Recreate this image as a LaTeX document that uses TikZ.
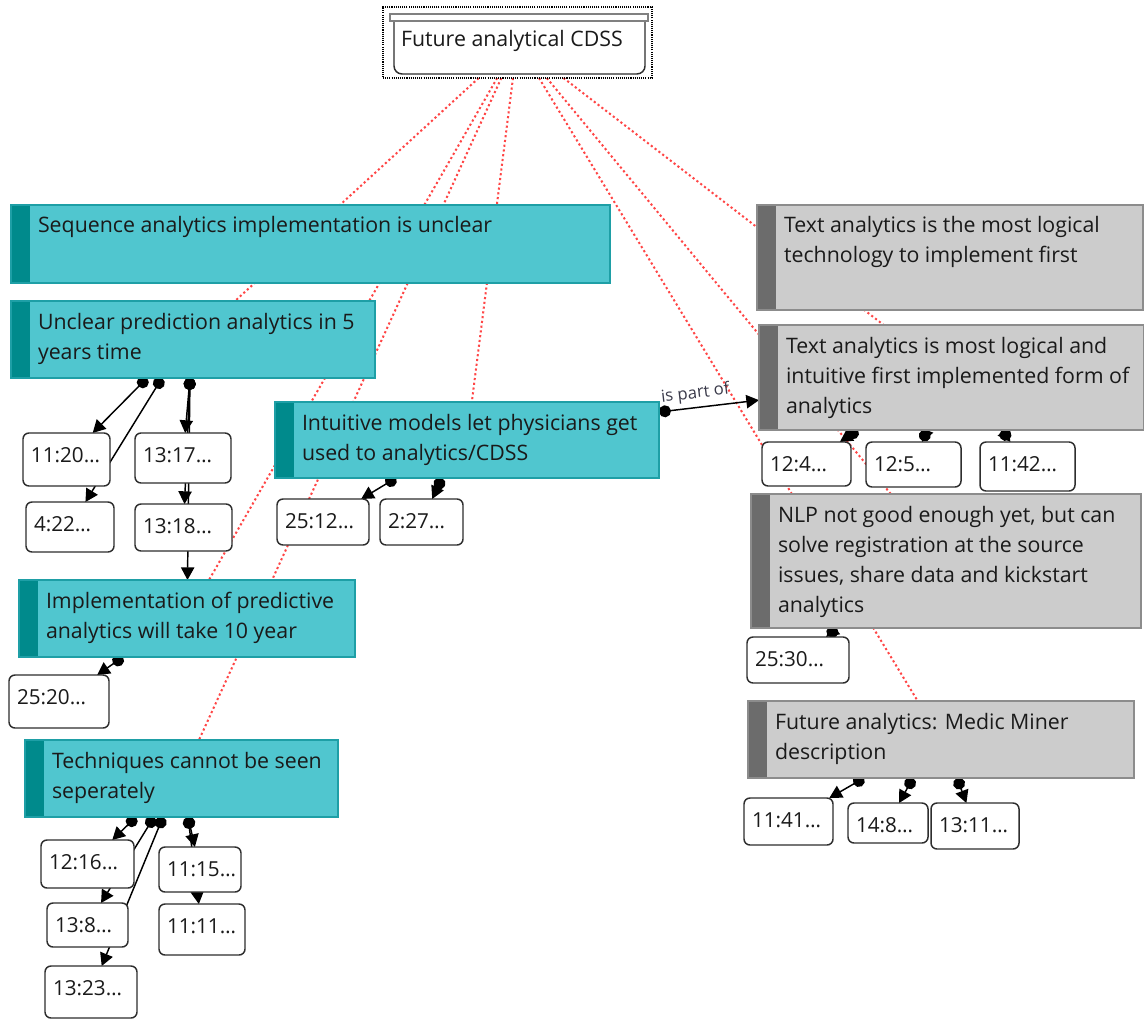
\documentclass[tikz,border=0pt]{standalone}
\usepackage{fontspec}
\setmainfont{Open Sans}
\usetikzlibrary{arrows.meta,calc}
\definecolor{cyanfill}{HTML}{50C6CF}
\definecolor{cyanline}{HTML}{1E9FA6}
\definecolor{cyanstrip}{HTML}{008A8C}
\definecolor{grayfill}{HTML}{CCCCCC}
\definecolor{grayline}{HTML}{8C8C8C}
\definecolor{graystrip}{HTML}{6C6C6C}
\definecolor{reddot}{HTML}{FF4545}
\definecolor{txt}{HTML}{1A1A1A}
\definecolor{qline}{HTML}{2E2E2E}
\definecolor{labtxt}{HTML}{3A3A4A}
\pgfdeclarelayer{redlayer}
\pgfdeclarelayer{connlayer}
\pgfsetlayers{redlayer,connlayer,main}
\newcommand{\codebox}[7]{%
  \node[#1, minimum width=#5*0.75pt, minimum height=#6*0.75pt, anchor=north west] (#2) at (#3,#4) {};
  \node[btext, anchor=north west] (#2-t) at ($(#2.north west)+(27,8)$) {\rule{0pt}{15pt}#7};
}
\newcommand{\quotbox}[6]{%
  \node[qbox, minimum width=(#4-#2)*0.75pt, minimum height=(#5-#3)*0.75pt, anchor=north west] (#1) at (#2,#3) {};
  \node[qtext, anchor=base west] (#1-t) at ($(#1.north west)+(8,29)$) {#6};
}
\begin{document}
\begin{tikzpicture}[x=0.75pt,y=-0.75pt,
  cbox/.style={draw=cyanline, fill=cyanfill, line width=1pt, inner sep=0pt, outer sep=0pt,
    path picture={\fill[cyanstrip] (path picture bounding box.north west) rectangle ([xshift=14.5pt]path picture bounding box.south west);}},
  gbox/.style={draw=grayline, fill=grayfill, line width=1pt, inner sep=0pt, outer sep=0pt,
    path picture={\fill[graystrip] (path picture bounding box.north west) rectangle ([xshift=14.5pt]path picture bounding box.south west);}},
  btext/.style={inner sep=0pt, outer sep=0pt, align=left, text=txt, font=\fontsize{16}{22.5}\selectfont},
  qbox/.style={draw=qline, fill=white, rounded corners=4.5pt, line width=1.1pt, inner sep=0pt, outer sep=0pt},
  qtext/.style={inner sep=0pt, outer sep=0pt, text=txt, font=\fontsize{15.5}{18}\selectfont},
  rel/.style={draw=reddot, line width=1.5pt, dash pattern=on 1.6pt off 2pt},
  conn/.style={draw=black, line width=1.1pt, {Circle[length=9pt]}-{Triangle[length=9.5pt,width=10pt]}},
]
\useasboundingbox (0,0) rectangle (1144,1019);
\begin{pgfonlayer}{redlayer}
\fill[white] (0,0) rectangle (1144,1019);
\end{pgfonlayer}

% top node
\node[draw=black, line width=1.1pt, dash pattern=on 0.8pt off 0.8pt, minimum width=269*0.75pt, minimum height=71*0.75pt, inner sep=0pt, outer sep=0pt, anchor=north west] (top) at (383,7) {};
\draw[fill=white, draw=qline, line width=1.1pt, rounded corners=6pt] (394,16) -- (394,74) -- (645,74) -- (645,16);
\draw[fill=white, draw=gray, line width=0.9pt] (390,14) rectangle (648,21);
\node[qtext, font=\fontsize{16}{18}\selectfont, anchor=base west] (top-t) at (401,47) {Future analytical CDSS};

% code boxes
\codebox{cbox}{seq}{11}{205}{599}{78}{Sequence analytics implementation is unclear}
\codebox{cbox}{unc}{11}{301}{364}{77}{Unclear prediction analytics in 5\\years time}
\codebox{cbox}{int}{275}{402}{384}{76}{Intuitive models let physicians get\\used to analytics/CDSS}
\codebox{cbox}{impl}{19}{580}{336}{77}{Implementation of predictive\\analytics will take 10 year}
\codebox{cbox}{tech}{25}{740}{313}{77}{Techniques cannot be seen\\seperately}
\codebox{gbox}{txtA}{757}{205}{386}{105}{Text analytics is the most logical\\technology to implement first}
\codebox{gbox}{txtB}{759}{325}{385}{105}{Text analytics is most logical and\\intuitive first implemented form of\\analytics}
\codebox{gbox}{nlp}{751}{494}{390}{134}{NLP not good enough yet, but can\\solve registration at the source\\issues, share data and kickstart\\analytics}
\codebox{gbox}{med}{748}{701}{386}{77}{Future analytics: Medic Miner\\description}

% quotation boxes
\quotbox{qa}{23}{433}{110}{486}{11:20…}
\quotbox{qb}{26}{502}{114}{552}{4:22…}
\quotbox{qc}{135}{433}{231}{483}{13:17…}
\quotbox{qd}{135}{504}{232}{551}{13:18…}
\quotbox{qe}{277}{499}{369}{545}{25:12…}
\quotbox{qf}{380}{499}{463}{545}{2:27…}
\quotbox{qg}{9}{675}{109}{728}{25:20…}
\quotbox{qh}{41}{840}{134}{888}{12:16…}
\quotbox{qi}{47}{903}{128}{947}{13:8…}
\quotbox{qj}{45}{966}{137}{1018}{13:23…}
\quotbox{qk}{159}{847}{241}{892}{11:15…}
\quotbox{ql}{159}{904}{245}{955}{11:11…}
\quotbox{qm}{762}{442}{851}{486}{12:4…}
\quotbox{qn}{866}{442}{961}{487}{12:5…}
\quotbox{qo}{980}{442}{1075}{491}{11:42…}
\quotbox{qp}{747}{637}{849}{683}{25:30…}
\quotbox{qq}{744}{798}{833}{845}{11:41…}
\quotbox{qr}{848}{803}{928}{843}{14:8…}
\quotbox{qs}{931}{803}{1019}{849}{13:11…}

% red relation lines (the ones to "seq" and "txtA" run along those to "unc" and "txtB")
\begin{pgfonlayer}{redlayer}
\draw[rel] (top) -- (unc);
\draw[rel] (top) -- (int);
\draw[rel] (top) -- (impl);
\draw[rel] (top) -- (tech);
\draw[rel] (top) -- (txtB);
\draw[rel] (top) -- (nlp);
\draw[rel] (top) -- (med);
\end{pgfonlayer}

% connectors
\coordinate (d1) at (147,378);
\coordinate (d2) at (162,378);
\coordinate (d3) at (190,378);
\coordinate (d4) at (396,478);
\coordinate (d5) at (442,478);
\coordinate (d6) at (123,657);
\coordinate (d7) at (136,817);
\coordinate (d8) at (154,817);
\coordinate (d9) at (163,817);
\coordinate (d10) at (188,817);
\coordinate (d11) at (858,430);
\coordinate (d12) at (927,430);
\coordinate (d13) at (1002,430);
\coordinate (d14) at (837,628);
\coordinate (d15) at (864,778);
\coordinate (d16) at (913,778);
\coordinate (d17) at (957,778);
\coordinate (dpo) at (659,412);
\begin{pgfonlayer}{connlayer}
\draw[conn] (d1) -- (qa);
\draw[conn] (d2) -- (qb);
\draw[conn] (d3) -- (qc);
\draw[conn] (d3) -- (qd);
\draw[conn] (d3) -- (impl);
\draw[conn] (d4) -- (qe);
\draw[conn] (d5) -- (qf);
\draw[conn] (d6) -- (qg);
\draw[conn] (d7) -- (qh);
\draw[conn] (d8) -- (qi);
\draw[conn] (d9) -- (qj);
\draw[conn] (d10) -- (qk);
\draw[conn] (d10) -- (ql);
\draw[conn] (d11) -- (qm);
\draw[conn] (d12) -- (qn);
\draw[conn] (d13) -- (qo);
\draw[conn] (d14) -- (qp);
\draw[conn] (d15) -- (qq);
\draw[conn] (d16) -- (qr);
\draw[conn] (d17) -- (qs);
\draw[conn] (dpo) -- node[sloped, above, pos=0.38, inner sep=3.5pt, text=labtxt, font=\fontsize{12.5}{14}\selectfont] (lbl) {is part of} (txtB);
\end{pgfonlayer}
\end{tikzpicture}
\end{document}
